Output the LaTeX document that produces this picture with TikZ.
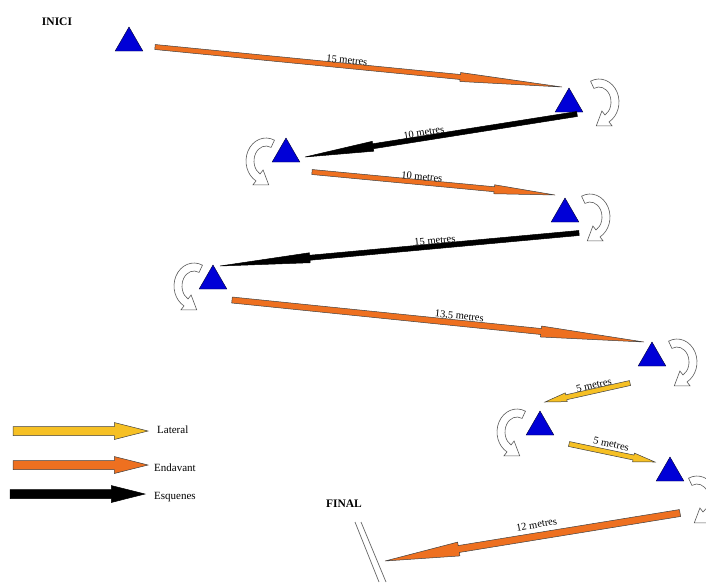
\documentclass[tikz,border=0pt]{standalone}
\usepackage{fontspec}
\setmainfont{Liberation Serif}
\usetikzlibrary{calc,shapes.geometric}

\definecolor{fwd}{RGB}{238,112,32}
\definecolor{lat}{RGB}{246,192,36}
\definecolor{marker}{RGB}{0,0,215}

% block arrow: style, from, to, shaft half width, head half width
\newcommand{\movearrow}[5]{%
  \coordinate (neck) at ($(#3)!0.25!(#2)$);
  \draw[#1] ($(#2)!#4!90:(#3)$) -- ($(neck)!#4!90:(#3)$) -- ($(neck)!#5!90:(#3)$) -- (#3)
    -- ($(neck)!#5!-90:(#3)$) -- ($(neck)!#4!-90:(#3)$) -- ($(#2)!#4!-90:(#3)$) -- cycle;
}

\tikzset{
  cone/.style={draw=black!80!blue,fill=marker,regular polygon,regular polygon sides=3,
    minimum size=32pt,inner sep=0pt},
  fwdarrow/.style={draw=black!75,fill=fwd,line width=0.5pt},
  latarrow/.style={draw=black!75,fill=lat,line width=0.5pt},
  backarrow/.style={draw=black,fill=black,line width=0.5pt},
  dist/.style={font=\fontsize{10.5}{12}\selectfont,sloped,above=1pt,inner sep=1pt},
  legtext/.style={font=\fontsize{11}{12}\selectfont,right,inner sep=1pt},
  title/.style={font=\fontsize{11.5}{13}\selectfont\bfseries},
  turn/.pic={
    \draw[draw=black!65,fill=white,line width=0.6pt]
      (-115:20 and 23) arc[start angle=-115,end angle=60,x radius=20,y radius=23]
      -- (13.1,23.9) -- (-2.7,23.8) -- (2.9,9)
      -- (60:12 and 15) arc[start angle=60,end angle=-115,x radius=12,y radius=15] -- cycle;
  }
}

\begin{document}
\begin{tikzpicture}[x=1pt,y=-1pt]
\useasboundingbox (0,0) rectangle (706,582);

\node [title] (inici) at(57,22) {INICI};
\node [title] (final) at(344,504) {FINAL};

% markers
\node [cone] (t1) at(129,43) {};
\node [cone] (t2) at(569,104) {};
\node [cone] (t3) at(286,154) {};
\node [cone] (t4) at(565,214) {};
\node [cone] (t5) at(213,281) {};
\node [cone] (t6) at(652,358) {};
\node [cone] (t7) at(540,427) {};
\node [cone] (t8) at(670,473) {};

% turns
\pic at (599,102) {turn};
\pic[xscale=-1] at (266,161) {turn};
\pic at (590,217) {turn};
\pic[xscale=-1] at (194,286) {turn};
\pic at (677,362) {turn};
\pic[xscale=-1] at (517,432) {turn};
\pic at (697,499) {turn};

% route
\coordinate (a1s) at (155,47);  \coordinate (a1e) at (562,87);
\coordinate (a2s) at (577,114); \coordinate (a2e) at (305,157);
\coordinate (a3s) at (312,172); \coordinate (a3e) at (555,195);
\coordinate (a4s) at (579,233); \coordinate (a4e) at (220,266);
\coordinate (a5s) at (232,300); \coordinate (a5e) at (644,342);
\coordinate (a6s) at (630,383); \coordinate (a6e) at (545,402);
\coordinate (a7s) at (569,444); \coordinate (a7e) at (655,462);
\coordinate (a8s) at (680,513); \coordinate (a8e) at (385,561);

\movearrow{fwdarrow}{a1s}{a1e}{2.5pt}{4.5pt}
\movearrow{backarrow}{a2s}{a2e}{2.5pt}{5pt}
\movearrow{fwdarrow}{a3s}{a3e}{2.5pt}{4.5pt}
\movearrow{backarrow}{a4s}{a4e}{2.5pt}{5pt}
\movearrow{fwdarrow}{a5s}{a5e}{3pt}{5.5pt}
\movearrow{latarrow}{a6s}{a6e}{2.5pt}{4.5pt}
\movearrow{latarrow}{a7s}{a7e}{2.5pt}{4.5pt}
\movearrow{fwdarrow}{a8s}{a8e}{3.5pt}{7pt}

\path (a1s) -- (a1e) node[dist,pos=.47] {15 metres};
\path (a2e) -- (a2s) node[dist,pos=.44] {10 metres};
\path (a3s) -- (a3e) node[dist,pos=.45] {10 metres};
\path (a4e) -- (a4s) node[dist,pos=.6] {15 metres};
\path (a5s) -- (a5e) node[dist,pos=.55] {13,5 metres};
\path (a6e) -- (a6s) node[dist,pos=.59] {5 metres};
\path (a7s) -- (a7e) node[dist,pos=.47,above=3pt] {5 metres};
\path (a8e) -- (a8s) node[dist,pos=.52,above=6pt] {12 metres};

% finish line
\coordinate (f1) at (355,522); \coordinate (f2) at (379,582);
\coordinate (f3) at (361,522); \coordinate (f4) at (386,582);
\draw [black!60,line width=0.7pt] (f1) -- (f2) (f3) -- (f4);

% legend
\coordinate (l1s) at (13,431); \coordinate (l1e) at (148,431);
\coordinate (l2s) at (13,465); \coordinate (l2e) at (148,465);
\coordinate (l3s) at (10,494); \coordinate (l3e) at (145,494);
\movearrow{latarrow}{l1s}{l1e}{4.5pt}{8.5pt}
\movearrow{fwdarrow}{l2s}{l2e}{4.5pt}{8.5pt}
\movearrow{backarrow}{l3s}{l3e}{4.5pt}{8.5pt}
\node [legtext] (lat) at(156,430) {Lateral};
\node [legtext] (fwd) at(153,468) {Endavant};
\node [legtext] (back) at(153,497) {Esquenes};
\end{tikzpicture}
\end{document}
